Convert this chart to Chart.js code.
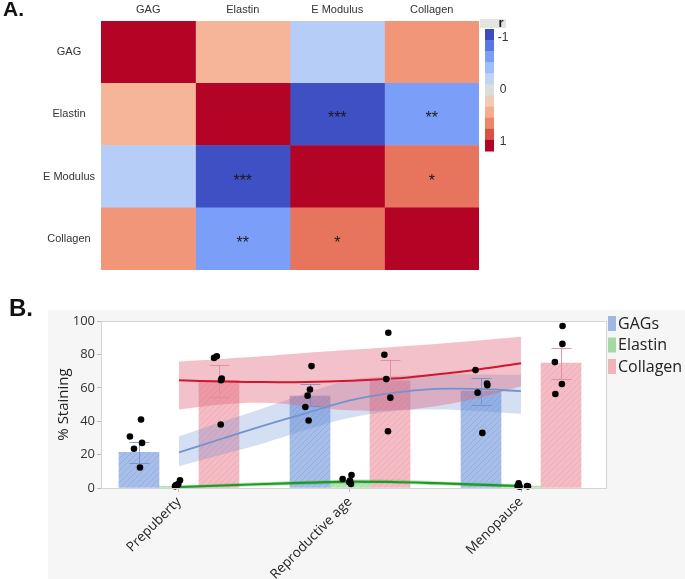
<!DOCTYPE html>
<html>
<head>
<meta charset="utf-8">
<script src="https://cdn.jsdelivr.net/npm/chart.js@4.4.1/dist/chart.umd.min.js"></script>
<style>
  body { margin: 0; background: #fff; }
  #wrap { position: relative; width: 685px; height: 579px; overflow: hidden; }
  #panelA { position: absolute; left: 0; top: 0; }
  #bgB { position: absolute; left: 48px; top: 310px; width: 637px; height: 269px; background: #f6f6f6; }
  #panelB { position: absolute; left: 0; top: 290px; }
  .tag { position: absolute; font: bold 21px "Liberation Sans", Arial, sans-serif; color: #111; }
</style>
</head>
<body>
<div id="wrap">
  <canvas id="panelA" width="685" height="286"></canvas>
  <div class="tag" style="left:3px;top:-3px">A.</div>
  <div id="bgB"></div>
  <canvas id="panelB" width="685" height="289"></canvas>
  <div class="tag" style="left:9px;top:294px;font-size:24px">B.</div>
</div>
<script>
// ---- panel A: correlation matrix ----
const variables = ['GAG', 'Elastin', 'E Modulus', 'Collagen'];
const rGAG = [1, 0.35, -0.26, 0.51];
const rElastin = [0.35, 1, -0.98, -0.6];
const rEModulus = [-0.26, -0.98, 1, 0.66];
const rCollagen = [0.51, -0.6, 0.66, 1];
const sigGAG = ['', '', '', ''];
const sigElastin = ['', '', '***', '**'];
const sigEModulus = ['', '***', '', '*'];
const sigCollagen = ['', '**', '*', ''];
const colorStops = ['#3b4cc0', '#5977e3', '#7b9ff9', '#9ebeff', '#c0d4f5', '#dddddd',
                    '#f2cbb7', '#f7ac8e', '#ee8468', '#d65244', '#b40426'];
const colorTicks = [-1, 0, 1];

// ---- panel B: % staining ----
const categories = ['Prepuberty', 'Reproductive age', 'Menopause'];
const gagMean = [21.3, 55, 58];
const elastinMean = [1, 4, 1.2];
const collagenMean = [64.5, 64.2, 74.8];
const gagErrLow = [15, 49, 50];
const gagErrHigh = [27.4, 62, 65.8];
const collagenErrLow = [54.7, 51, 65];
const collagenErrHigh = [73.8, 76.8, 84];

const gagPoints = [[41, 30.8, 23.5, 27, 12.3], [73, 59, 55.3, 48.5, 40.4], [70.6, 62.6, 61.6, 57.1, 33]];
const gagJitter = [[0.012, -0.053, -0.029, 0.018, 0.006], [0.009, 0, -0.014, -0.027, -0.008], [-0.032, 0.035, 0.037, -0.02, 0.008]];
const elastinPoints = [[1.4, 1.8, 2.4, 4.6, 1.0], [5.4, 7.8, 4.4, 2.4, 3.4], [2.8, 1.2, 0.8, 1.2, 1.0]];
const elastinJitter = [[-0.013, -0.018, -0.004, 0.006, -0.023], [-0.043, 0.009, 0, 0.006, -0.004], [-0.014, -0.02, -0.008, 0.035, 0.041]];
const collagenPoints = [[77.9, 78.9, 65.6, 64.5, 38], [93, 79.8, 65.2, 54.1, 34], [97, 86.3, 75.4, 62.3, 56.3]];
const collagenJitter = [[-0.029, -0.013, 0.016, 0.012, 0.01], [-0.01, -0.033, -0.022, 0.002, -0.012], [0.009, 0.008, -0.036, 0.005, -0.033]];

const trendX = [0, 0.25, 0.5, 0.75, 1, 1.25, 1.5, 1.75, 2];
const collagenFit = [64.5, 63.8, 63.4, 63.5, 64.2, 65.5, 68, 71, 74.7];
const collagenUpper = [75.8, 77.3, 79, 81, 82.8, 84.5, 86.3, 88.3, 90.5];
const collagenLower = [47, 50, 51, 49, 46.5, 46.5, 49, 54, 61];
const gagFit = [21.3, 29.5, 37.5, 45, 52.5, 57, 59.3, 59.3, 58];
const gagUpper = [31, 39.5, 48, 57, 64.5, 67, 68, 68, 67.8];
const gagLower = [13, 20, 27, 35, 42, 46, 47, 46, 44.5];
const elastinFit = [0.6, 1.5, 2.4, 3.2, 3.8, 3.6, 2.9, 2.0, 1.2];
const elastinUpper = [1.6, 2.6, 3.6, 4.4, 5.0, 4.9, 4.1, 3.1, 2.2];
const elastinLower = [-0.4, 0.4, 1.2, 2.0, 2.6, 2.4, 1.7, 0.9, 0.2];

// ---------------------------------------------------------------
const corrRows = [rGAG, rElastin, rEModulus, rCollagen];
const sigRows = [sigGAG, sigElastin, sigEModulus, sigCollagen];

function hexRgb(h) {
  return [parseInt(h.slice(1, 3), 16), parseInt(h.slice(3, 5), 16), parseInt(h.slice(5, 7), 16)];
}
function rColor(r) {
  const t = (r + 1) / 2 * (colorStops.length - 1);
  const i = Math.min(Math.floor(t), colorStops.length - 2);
  const f = t - i;
  const a = hexRgb(colorStops[i]), b = hexRgb(colorStops[i + 1]);
  const c = a.map((v, k) => Math.round(v + (b[k] - v) * f));
  return 'rgb(' + c.join(',') + ')';
}

const fontA = '"Liberation Sans", Arial, sans-serif';

const matrixExtras = {
  id: 'matrixExtras',
  afterDatasetsDraw(chart) {
    const ctx = chart.ctx, xs = chart.scales.x, ys = chart.scales.y;
    ctx.save();
    ctx.fillStyle = '#1a1a1a';
    ctx.font = '16px ' + fontA;
    ctx.textAlign = 'center';
    ctx.textBaseline = 'alphabetic';
    sigRows.forEach((row, r) => row.forEach((s, c) => {
      if (s) ctx.fillText(s, xs.getPixelForValue(c + 0.5), ys.getPixelForValue(r) + 9);
    }));
    ctx.restore();
  },
  afterDraw(chart) {
    // colour key
    const ctx = chart.ctx, ca = chart.chartArea;
    const x0 = ca.right + 6, y0 = ca.top + 8, H = 122, step = H / colorStops.length;
    ctx.save();
    ctx.fillStyle = '#e4e4e4';
    ctx.fillRect(ca.right + 1, ca.top - 2, 26, 9);
    colorStops.forEach((col, i) => {
      ctx.fillStyle = col;
      ctx.fillRect(x0, y0 + i * step, 9, step + 0.5);
    });
    ctx.fillStyle = '#222';
    ctx.font = 'bold 13px ' + fontA;
    ctx.textAlign = 'center';
    ctx.textBaseline = 'alphabetic';
    ctx.fillText('r', ca.right + 22, ca.top + 6);
    ctx.font = '12px ' + fontA;
    ctx.textBaseline = 'middle';
    ctx.fillStyle = '#333';
    colorTicks.forEach(t => {
      ctx.fillText(String(t), x0 + 18, y0 + 9 + (t + 1) / 2 * (H - 18));
    });
    ctx.restore();
  }
};

new Chart(document.getElementById('panelA'), {
  type: 'bar',
  data: {
    labels: variables,
    datasets: variables.map((v, c) => ({
      label: v,
      data: variables.map(() => 1),
      backgroundColor: corrRows.map(row => rColor(row[c])),
      borderWidth: 0,
      barPercentage: 1,
      categoryPercentage: 1
    }))
  },
  options: {
    indexAxis: 'y',
    responsive: false,
    animation: false,
    layout: { padding: { left: 0, top: 0, right: 206, bottom: 16 } },
    plugins: { legend: { display: false }, tooltip: { enabled: false } },
    scales: {
      x: {
        type: 'linear', position: 'top', min: 0, max: 4, stacked: true,
        grid: { display: false, drawTicks: false },
        border: { display: false },
        afterBuildTicks: s => { s.ticks = variables.map((v, i) => ({ value: i + 0.5 })); },
        ticks: { callback: (v, i) => variables[i], font: { size: 11, family: fontA }, color: '#333', padding: 4 },
        afterFit: s => { s.height = 21; }
      },
      y: {
        stacked: true,
        grid: { display: false, drawTicks: false },
        border: { display: false },
        ticks: { crossAlign: 'center', padding: 6, font: { size: 11, family: fontA }, color: '#333' },
        afterFit: s => { s.width = 101; }
      }
    }
  },
  plugins: [matrixExtras]
});

// ---------------------------------------------------------------
const ctxB = document.getElementById('panelB').getContext('2d');
const fontB = '"Open Sans", "Noto Sans", sans-serif';
const slot = 0.234; // bar slot width in category units

function hatch(base, stripe) {
  const p = document.createElement('canvas');
  p.width = 6; p.height = 6;
  const c = p.getContext('2d');
  c.fillStyle = base; c.fillRect(0, 0, 6, 6);
  c.strokeStyle = stripe; c.lineWidth = 1;
  c.beginPath();
  c.moveTo(0, 6); c.lineTo(6, 0);
  c.moveTo(-1, 1); c.lineTo(1, -1);
  c.moveTo(5, 7); c.lineTo(7, 5);
  c.stroke();
  return ctxB.createPattern(p, 'repeat');
}

const bars = (label, values, fill, key) => ({
  type: 'bar', label, keyColor: key,
  data: values.map((v, i) => ({ x: i, y: v })),
  backgroundColor: fill, borderWidth: 0, barThickness: 40, order: 6
});
const curve = (values, extra) => Object.assign({
  type: 'line',
  data: trendX.map((x, i) => ({ x, y: values[i] })),
  pointRadius: 0, tension: 0.4, borderWidth: 0, fill: false
}, extra);

const points = [];
[gagPoints, elastinPoints, collagenPoints].forEach((series, s) => {
  const jit = [gagJitter, elastinJitter, collagenJitter][s];
  series.forEach((vals, i) => vals.forEach((v, k) => {
    points.push({ x: i + (s - 1) * slot + jit[i][k], y: v });
  }));
});

const errorBars = {
  id: 'errorBars',
  beforeDatasetDraw(chart, args) {
    if (args.meta.type !== 'scatter') return;
    const ctx = chart.ctx, ys = chart.scales.y;
    const sets = [[0, gagErrLow, gagErrHigh, 'rgba(110,140,200,0.8)'], [2, collagenErrLow, collagenErrHigh, 'rgba(225,140,155,0.9)']];
    ctx.save();
    ctx.lineWidth = 1;
    sets.forEach(([idx, lo, hi, col]) => {
      chart.getDatasetMeta(idx).data.forEach((bar, i) => {
        const x = Math.round(bar.x) + 0.5, y1 = ys.getPixelForValue(lo[i]), y2 = ys.getPixelForValue(hi[i]);
        ctx.strokeStyle = col;
        ctx.beginPath();
        ctx.moveTo(x, y1); ctx.lineTo(x, y2);
        ctx.moveTo(x - 10, Math.round(y1) + 0.5); ctx.lineTo(x + 10, Math.round(y1) + 0.5);
        ctx.moveTo(x - 10, Math.round(y2) + 0.5); ctx.lineTo(x + 10, Math.round(y2) + 0.5);
        ctx.stroke();
      });
    });
    ctx.restore();
  }
};

const frameAndKey = {
  id: 'frameAndKey',
  beforeDraw(chart) {
    const ctx = chart.ctx, ca = chart.chartArea;
    ctx.save();
    ctx.fillStyle = '#ffffff';
    ctx.fillRect(ca.left, ca.top, ca.width, ca.height);
    ctx.restore();
  },
  afterDraw(chart) {
    const ctx = chart.ctx, ca = chart.chartArea;
    ctx.save();
    ctx.strokeStyle = '#d4d4d4';
    ctx.lineWidth = 1;
    ctx.strokeRect(Math.round(ca.left) + 0.5, Math.round(ca.top) + 0.5, Math.round(ca.width), Math.round(ca.height));
    ctx.font = '16px ' + fontB;
    ctx.textBaseline = 'middle';
    ctx.textAlign = 'left';
    chart.data.datasets.filter(d => d.keyColor).forEach((d, i) => {
      const x = ca.right + 2, y = ca.top - 5 + i * 21.5;
      ctx.fillStyle = d.keyColor;
      ctx.fillRect(x, y, 8, 15);
      ctx.fillStyle = '#222';
      ctx.fillText(d.label, x + 10, y + 8);
    });
    ctx.restore();
  }
};

new Chart(ctxB, {
  type: 'bar',
  data: {
    datasets: [
      bars('GAGs', gagMean, hatch('#a6bee8', '#93aee0'), '#9db8e2'),
      bars('Elastin', elastinMean, hatch('#b7e4b7', '#a5dba5'), '#a3d9a3'),
      bars('Collagen', collagenMean, hatch('#f4bcc4', '#f0aab4'), '#f0b3bb'),
      curve(collagenUpper, { fill: '+1', backgroundColor: 'rgba(226,100,120,0.40)', order: 4 }),
      curve(collagenLower, { order: 4 }),
      curve(gagUpper, { fill: '+1', backgroundColor: 'rgba(100,138,210,0.27)', order: 4 }),
      curve(gagLower, { order: 4 }),
      curve(elastinUpper, { fill: '+1', backgroundColor: 'rgba(70,180,70,0.35)', order: 4 }),
      curve(elastinLower, { order: 4 }),
      curve(collagenFit, { borderColor: '#d2162e', borderWidth: 2, order: 3 }),
      curve(gagFit, { borderColor: '#7393d0', borderWidth: 1.8, order: 3 }),
      curve(elastinFit, { borderColor: '#1f9a22', borderWidth: 2.2, order: 3 }),
      { type: 'scatter', data: points, backgroundColor: '#000', borderWidth: 0, pointRadius: 3.3, clip: false, order: 1 }
    ]
  },
  options: {
    responsive: false,
    animation: false,
    layout: { padding: { left: 0, top: 31, right: 79, bottom: 0 } },
    plugins: { legend: { display: false }, tooltip: { enabled: false } },
    scales: {
      x: {
        type: 'linear', min: -0.456, max: 2.497, offset: false,
        grid: { display: true, drawOnChartArea: false, tickLength: 4, color: '#bbbbbb', offset: false },
        border: { color: '#d4d4d4' },
        afterBuildTicks: s => { s.ticks = categories.map((c, i) => ({ value: i })); },
        ticks: { autoSkip: false, minRotation: 45, maxRotation: 45, callback: (v, i) => categories[i],
                 font: { size: 13.5, family: fontB }, color: '#222', padding: 2 },
        afterFit: s => { s.height = 91; }
      },
      y: {
        min: 0, max: 100,
        grid: { drawOnChartArea: false, tickLength: 4, color: '#bbbbbb' },
        border: { color: '#d4d4d4' },
        ticks: { stepSize: 20, font: { size: 13, family: fontB }, color: '#333', padding: 2 },
        title: { display: true, text: '% Staining', font: { size: 15, family: fontB }, color: '#222', padding: { top: 55, bottom: 0 } },
        afterFit: s => { s.width = 101; }
      }
    }
  },
  plugins: [errorBars, frameAndKey]
});
</script>
</body>
</html>
